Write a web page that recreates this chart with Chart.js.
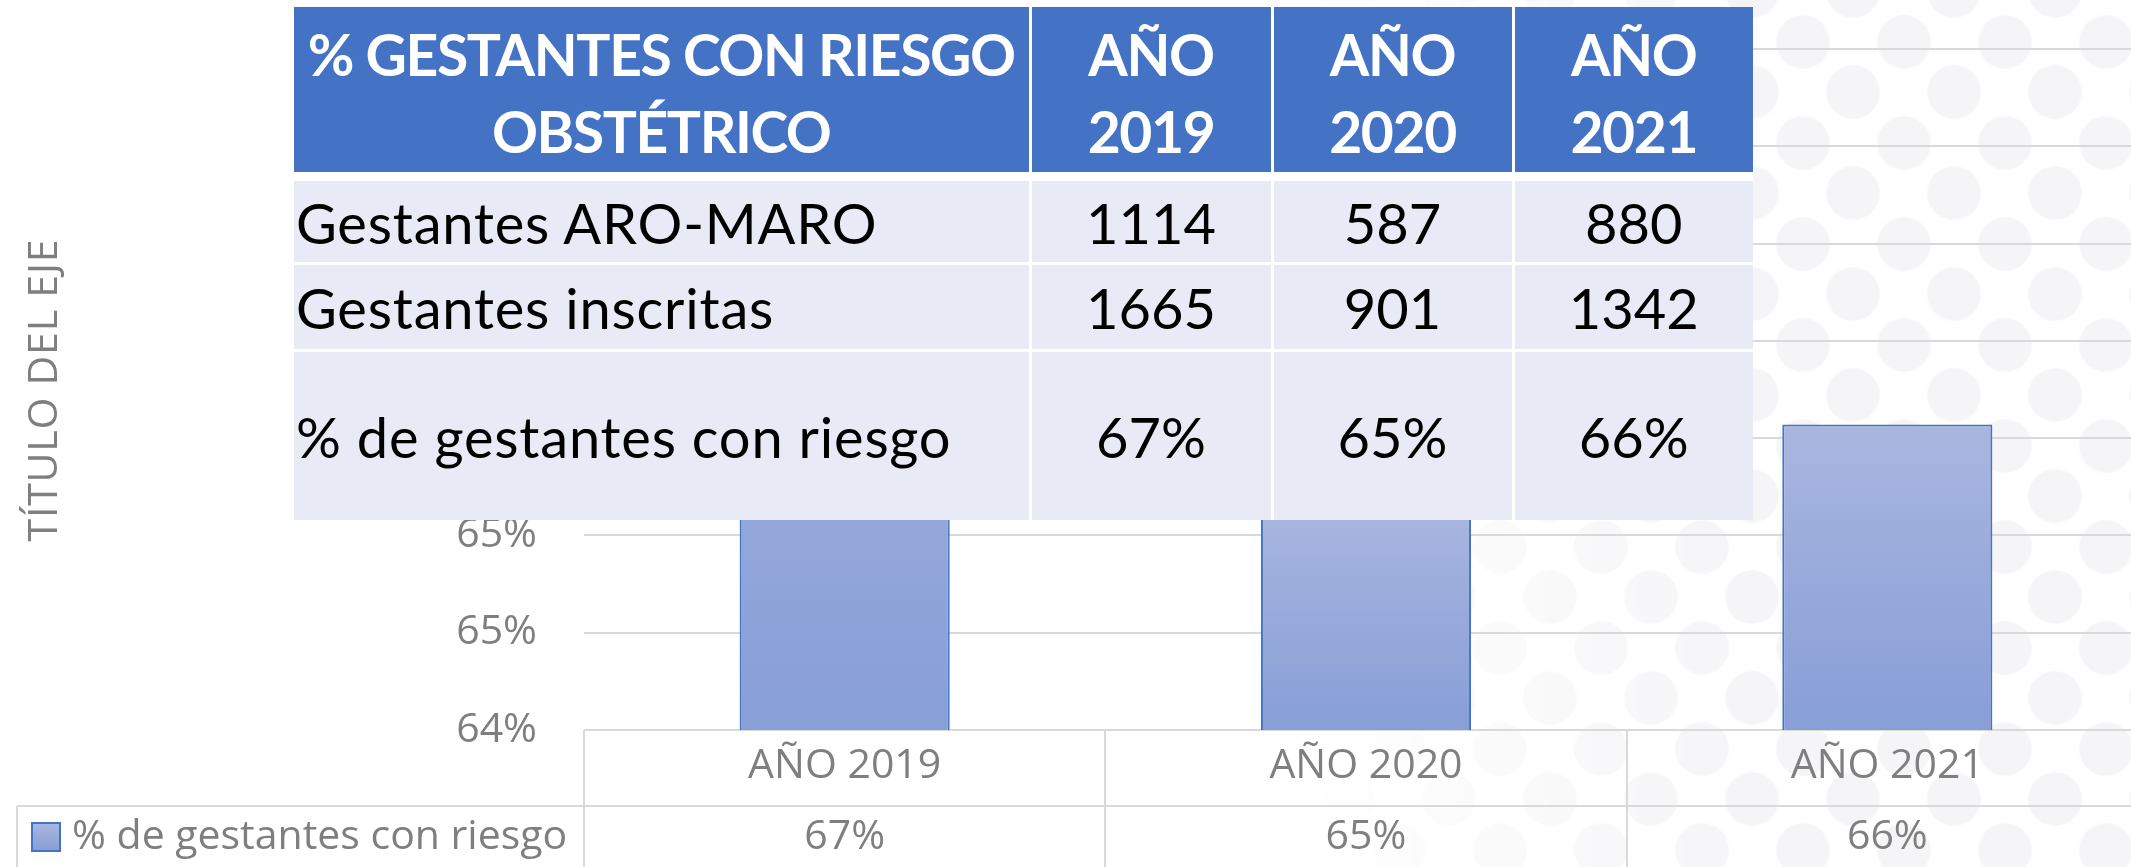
<!DOCTYPE html>
<html>
<head>
<meta charset="utf-8">
<script src="https://cdn.jsdelivr.net/npm/chart.js@4.4.1/dist/chart.umd.min.js"></script>
<style>
  html, body { margin:0; padding:0; background:#ffffff; width:2131px; height:867px; overflow:hidden; }
  #dots {
    position:absolute; left:0; top:0; width:2131px; height:867px; z-index:0;
    background-image:
      radial-gradient(circle at 50.5px 50.5px, #f5f5f7 26px, rgba(245,245,247,0) 27.5px),
      radial-gradient(circle at 50.5px 50.5px, #f5f5f7 26px, rgba(245,245,247,0) 27.5px);
    background-size: 101px 101px, 101px 101px;
    background-position: 35.5px -8.5px, -15.5px 41.5px;
    -webkit-mask-image: linear-gradient(to right, rgba(0,0,0,0) 1300px, rgba(0,0,0,1) 1750px);
    mask-image: linear-gradient(to right, rgba(0,0,0,0) 1300px, rgba(0,0,0,1) 1750px);
  }
  #wrap { position:absolute; left:0; top:0; width:2150px; height:867px; z-index:1; }
  #tbl {
    position:absolute; left:294px; top:7px; z-index:2; background:#ffffff;
    display:grid;
    grid-template-columns: 734.5px 239px 238px 238.5px;
    grid-template-rows: 165px 90px 86.5px 171px;
    column-gap:3px;
    font-family: Lato, "Open Sans", sans-serif;
  }
  #tbl .cell { display:flex; align-items:center; box-sizing:border-box; white-space:pre-line; }
  #tbl .hd { background:#4472c4; color:#ffffff; font-weight:700; font-size:57px; line-height:77px; justify-content:center; text-align:center; padding-top:6px; height:165px; }
  #tbl .bd { background:#e8ebf5; color:#000000; font-size:56px; line-height:68px; justify-content:center; padding-top:2px; }
  #tbl .bd.lab { justify-content:flex-start; padding-left:2px; letter-spacing:0.8px; }
</style>
</head>
<body>
<div id="dots"></div>
<div id="wrap"><canvas id="c" width="2150" height="867"></canvas></div>
<div id="tbl"></div>
<script>
// ---- data ----
const categories = ['AÑO 2019', 'AÑO 2020', 'AÑO 2021'];
const seriesName = '% de gestantes con riesgo';
const pctRiesgo = [0.669, 0.6515, 0.6557];
const pctLabels = ['67%', '65%', '66%'];
const yMin = 0.64, yMax = 0.675, yStep = 0.005;
const yAxisTitle = 'TÍTULO DEL EJE';

const tableTitle = ['% GESTANTES CON RIESGO', 'OBSTÉTRICO'];
const rowLabels = ['Gestantes ARO-MARO', 'Gestantes inscritas', '% de gestantes con riesgo'];
const gestantesAroMaro = [1114, 587, 880];
const gestantesInscritas = [1665, 901, 1342];
const pctTabla = ['67%', '65%', '66%'];

// ---- overlay table ----
(function buildTable(){
  const tbl = document.getElementById('tbl');
  const add = (cls, text, extra) => {
    const d = document.createElement('div');
    d.className = 'cell ' + cls;
    d.textContent = text;
    if (extra) Object.assign(d.style, extra);
    tbl.appendChild(d);
    return d;
  };
  // fit the bold header width to the reference (narrow Calibri-like face)
  const mc = document.createElement('canvas').getContext('2d');
  mc.font = "700 57px Lato";
  const w = mc.measureText(tableTitle[0]).width;
  const ls = (707 - w) / tableTitle[0].length;
  add('hd', tableTitle.join('\n'), {letterSpacing: ls + 'px'});
  categories.forEach(c => add('hd', c.replace(' ', '\n'), {letterSpacing: Math.max(ls, -2) + 'px'}));
  const rows = [gestantesAroMaro, gestantesInscritas, pctTabla];
  const geo = [{marginTop:'9px', height:'81px'}, {marginTop:'2.5px', height:'84px'}, {marginTop:'3px', height:'168px'}];
  rows.forEach((vals, r) => {
    add('bd lab', rowLabels[r], geo[r]);
    vals.forEach(v => add('bd', String(v), geo[r]));
  });
})();

// ---- chart ----
const GRID = '#d9d9d9';
const TXT = '#7f7f7f';
const FONT = "'Open Sans', sans-serif";
const PLOT_TOP = 49;

function barFill(c) {
  const chart = c.chart, area = chart.chartArea, y = chart.scales && chart.scales.y;
  if (!area || !y || c.type !== 'data') return '#98aadb';
  const top = y.getPixelForValue(c.raw);
  const g = chart.ctx.createLinearGradient(0, top, 0, area.bottom);
  g.addColorStop(0, '#a9b6df');
  g.addColorStop(1, '#879ed7');
  return g;
}

const yTitlePlugin = {
  id: 'yTitle',
  afterDraw(chart) {
    const {ctx, chartArea} = chart;
    ctx.save();
    ctx.translate(45, (chartArea.top + chartArea.bottom) / 2 + 1);
    ctx.rotate(-Math.PI / 2);
    ctx.font = "41px " + FONT;
    try { ctx.letterSpacing = '0.8px'; } catch (e) {}
    ctx.textAlign = 'center';
    ctx.textBaseline = 'middle';
    ctx.fillStyle = TXT;
    ctx.fillText(yAxisTitle, 0.4, 0);
    ctx.restore();
  }
};

const dataTablePlugin = {
  id: 'dataTable',
  afterDraw(chart) {
    const {ctx, chartArea, scales: {x}} = chart;
    const top = chartArea.bottom;
    const sep = top + 76;
    const bottom = chart.height;
    const legendLeft = 17;
    const n = categories.length;
    const half = (x.getPixelForValue(1) - x.getPixelForValue(0)) / 2;
    ctx.save();
    ctx.strokeStyle = GRID;
    ctx.lineWidth = 2;
    ctx.beginPath();
    for (let i = 0; i <= n; i++) {
      const xb = Math.round(x.getPixelForValue(Math.min(i, n - 1)) + (i < n ? -half : half));
      ctx.moveTo(xb, top); ctx.lineTo(xb, bottom);
    }
    ctx.moveTo(legendLeft, sep); ctx.lineTo(chartArea.right, sep);
    ctx.moveTo(legendLeft, sep); ctx.lineTo(legendLeft, bottom);
    ctx.stroke();

    // legend key
    const ky = 823, kx = 32, ks = 28;
    const kg = ctx.createLinearGradient(0, ky, 0, ky + ks);
    kg.addColorStop(0, '#a9b6df'); kg.addColorStop(1, '#879ed7');
    ctx.fillStyle = kg;
    ctx.fillRect(kx, ky, ks, ks);
    ctx.strokeStyle = '#4472c4';
    ctx.lineWidth = 2;
    ctx.strokeRect(kx, ky, ks, ks);

    ctx.fillStyle = TXT;
    ctx.font = "41px " + FONT;
    ctx.textBaseline = 'middle';
    ctx.textAlign = 'left';
    const rowMid = 837;
    ctx.fillText(seriesName, 72, rowMid);
    ctx.textAlign = 'center';
    pctLabels.forEach((t, i) => ctx.fillText(t, x.getPixelForValue(i), rowMid));
    ctx.restore();
  }
};

const chart = new Chart(document.getElementById('c'), {
  type: 'bar',
  data: {
    labels: categories,
    datasets: [{
      label: seriesName,
      data: pctRiesgo,
      backgroundColor: barFill,
      borderColor: '#4472c4',
      borderWidth: 2,
      categoryPercentage: 1,
      barPercentage: 0.403
    }]
  },
  options: {
    responsive: false,
    animation: false,
    devicePixelRatio: 1,
    layout: { padding: { top: PLOT_TOP, right: 2, left: 0, bottom: 0 } },
    plugins: { legend: { display: false }, tooltip: { enabled: false } },
    scales: {
      x: {
        grid: { display: false, drawTicks: false },
        border: { display: false },
        ticks: { color: TXT, font: { family: FONT, size: 41 }, padding: 12, maxRotation: 0, autoSkip: false },
        afterFit(s) { s.height = 137; }
      },
      y: {
        min: yMin, max: yMax,
        grid: { color: GRID, lineWidth: 2, drawTicks: false },
        border: { display: false },
        ticks: {
          stepSize: yStep, color: TXT, padding: 47,
          font: { family: FONT, size: 41 },
          callback: v => Math.round(v * 100 + 1e-9) + '%'
        },
        title: { display: false },
        afterFit(s) { s.width = 584; s.paddingTop = 0; s.paddingBottom = 0; }
      }
    }
  },
  plugins: [dataTablePlugin, yTitlePlugin]
});

// pin the plot-area top to the reference position
for (let k = 0; k < 4; k++) {
  const d = PLOT_TOP - chart.chartArea.top;
  if (Math.abs(d) < 0.25) break;
  chart.options.layout.padding.top = Math.max(0, chart.options.layout.padding.top + d);
  chart.update();
}
</script>
</body>
</html>
